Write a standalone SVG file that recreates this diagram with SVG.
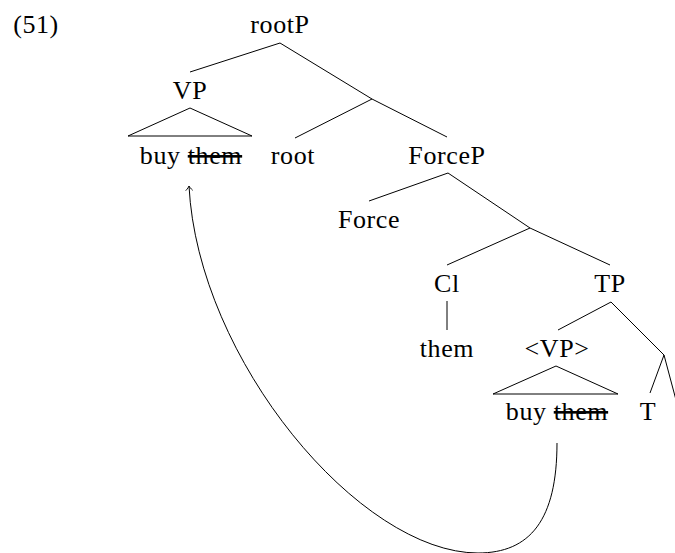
<svg xmlns="http://www.w3.org/2000/svg" width="675" height="553" viewBox="0 0 675 553">
<defs>
<style>
text{font-family:"Liberation Serif","DejaVu Serif",serif;font-size:26px;letter-spacing:0.6px;fill:#000;text-anchor:middle}
.ln{stroke:#000;stroke-width:1;fill:none}
.strike{text-decoration:line-through}
</style>
<marker id="to" markerUnits="userSpaceOnUse" markerWidth="12" markerHeight="12" viewBox="-6 -6 12 12" refX="0" refY="0" orient="auto">
<path d="M-4.5,-3.5 C-2.5,-1.5 -1,-0.4 0,0 C-1,0.4 -2.5,1.5 -4.5,3.5" stroke="#000" stroke-width="0.9" fill="none"/>
</marker>
</defs>
<rect width="675" height="553" fill="#fff"/>
<text x="36" y="33" letter-spacing="2">(51)</text>

<g id="connectors">
<line class="ln" x1="280" y1="43" x2="190" y2="72"/>
<line class="ln" x1="280" y1="43" x2="372" y2="99"/>
<line class="ln" x1="372" y1="99" x2="295" y2="138"/>
<line class="ln" x1="372" y1="99" x2="447" y2="137"/>
<line class="ln" x1="448" y1="173" x2="369" y2="201"/>
<line class="ln" x1="448" y1="173" x2="530" y2="228"/>
<line class="ln" x1="530" y1="228" x2="447" y2="265"/>
<line class="ln" x1="530" y1="228" x2="610" y2="265"/>
<line class="ln" x1="447" y1="301" x2="447" y2="330"/>
<line class="ln" x1="611" y1="302" x2="558" y2="330"/>
<line class="ln" x1="611" y1="302" x2="664" y2="355"/>
<line class="ln" x1="664" y1="355" x2="650" y2="393"/>
<line class="ln" x1="664" y1="355" x2="680" y2="415"/>
<path class="ln" d="M557,443 C557,520 530,553 478,553 C360,553 198,360 189,186" marker-end="url(#to)"/>
</g>

<g id="rootP"><text x="280" y="33">rootP</text></g>
<g id="VP">
<text x="190" y="99">VP</text>
<polygon class="ln" points="190,108 128,136 252,136"/>
</g>
<g id="VP-content"><text x="191" y="164">buy <tspan class="strike">them</tspan></text></g>
<g id="root"><text x="293" y="164">root</text></g>
<g id="ForceP"><text x="447" y="164">ForceP</text></g>
<g id="Force"><text x="369" y="228">Force</text></g>
<g id="Cl"><text x="447" y="292">Cl</text></g>
<g id="TP"><text x="610" y="292">TP</text></g>
<g id="them"><text x="447" y="357">them</text></g>
<g id="VP2">
<text x="557" y="357">&lt;VP&gt;</text>
<polygon class="ln" points="556,366 493,394 618,394"/>
</g>
<g id="VP2-content"><text x="557" y="420">buy <tspan class="strike">them</tspan></text></g>
<g id="T"><text x="648" y="420">T</text></g>
</svg>
